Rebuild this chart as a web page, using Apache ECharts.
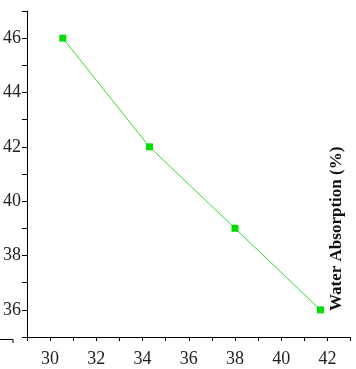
<!DOCTYPE html>
<html>
<head>
<meta charset="utf-8">
<script src="https://cdn.jsdelivr.net/npm/echarts@6/dist/echarts.min.js"></script>
<style>html,body{margin:0;padding:0;background:#fff;}#c{width:356px;height:369px;}</style>
</head>
<body>
<div id="c"></div>
<script>
var temperature = [30.55, 34.3, 38, 41.7];
var waterAbsorption = [46, 42, 39, 36];
var yAxisTitle = 'Water Absorption (%)';

var chart = echarts.init(document.getElementById('c'), null, {renderer: 'canvas'});
var pts = temperature.map(function (t, i) { return [t, waterAbsorption[i]]; });
var serif = '"Liberation Serif", "DejaVu Serif", serif';
chart.setOption({
  animation: false,
  grid: {left: 26, right: 5.5, top: 11, bottom: 32},
  xAxis: {
    type: 'value', min: 29, max: 43, interval: 1,
    axisLine: {lineStyle: {color: '#000', width: 1}},
    axisTick: {inside: false, length: 4, lineStyle: {color: '#000'}},
    axisLabel: {
      margin: 13, fontFamily: serif, fontSize: 18, color: '#222',
      formatter: function (v) { return v % 2 === 0 ? String(v) : ''; }
    },
    splitLine: {show: false}
  },
  yAxis: {
    type: 'value', min: 35, max: 47, interval: 1,
    axisLine: {show: true, lineStyle: {color: '#000', width: 1}},
    axisTick: {show: true, length: 5, lineStyle: {color: '#000'}},
    axisLabel: {
      margin: 6, fontFamily: serif, fontSize: 18, color: '#222',
      formatter: function (v) { return v % 2 === 0 ? String(v) : ''; }
    },
    splitLine: {show: false}
  },
  graphic: [
    {type: 'text', x: 328, y: 311, rotation: Math.PI / 2,
     style: {text: yAxisTitle, font: 'bold 17px ' + serif, fill: '#111', verticalAlign: 'top', align: 'left'}},
    {type: 'line', shape: {x1: 0, y1: 339.5, x2: 13, y2: 339.5}, style: {stroke: '#000', lineWidth: 1}},
    {type: 'line', shape: {x1: 13, y1: 339.5, x2: 13, y2: 343}, style: {stroke: '#000', lineWidth: 1}}
  ],
  series: [{
    type: 'line', data: pts,
    symbol: 'rect', symbolSize: 7,
    itemStyle: {color: '#00e000'},
    lineStyle: {color: '#33dd33', width: 1}
  }]
});
</script>
</body>
</html>
